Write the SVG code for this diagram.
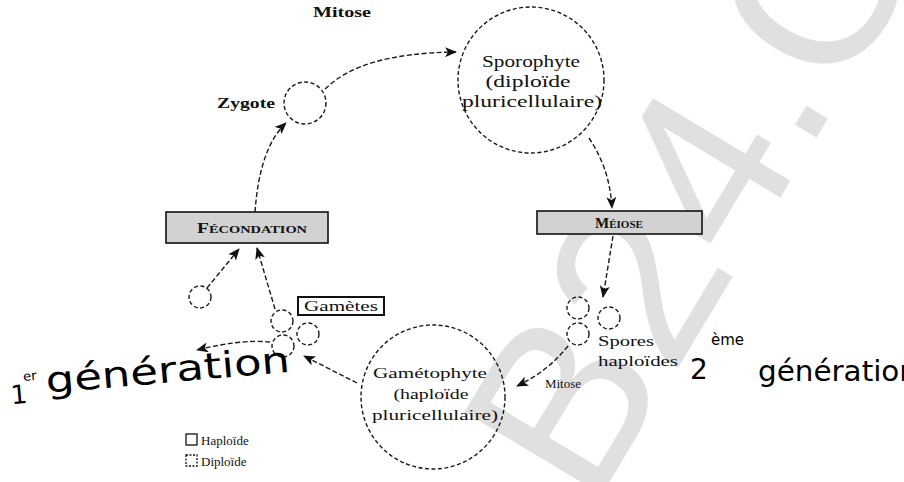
<svg xmlns="http://www.w3.org/2000/svg" width="904" height="482" viewBox="0 0 904 482">
  <style>
    .cell { fill: none; stroke: #1a1a1a; stroke-width: 1.4; stroke-dasharray: 4 2.5; }
    .lbl { font-family: "Liberation Serif", "Times New Roman", serif; fill: #111; }
    .box { fill: #d2d2d2; stroke: #111; stroke-width: 1.6; }
    .boxtxt { font-family: "Liberation Serif", "Times New Roman", serif; font-weight: bold; font-variant: small-caps; fill: #111; }
    .link { fill: none; stroke: #1a1a1a; stroke-width: 1.4; stroke-dasharray: 5 2.5; }
    .hand { font-family: "DejaVu Sans", "Liberation Sans", sans-serif; fill: #000; }
  </style>
  <defs>
    <marker id="arrow" viewBox="0 0 12 10" refX="11" refY="5" markerWidth="12" markerHeight="10" markerUnits="userSpaceOnUse" orient="auto">
      <path d="M0,0 L12,5 L0,10 L3,5 Z" fill="#111"/>
    </marker>
  </defs>

  <rect width="904" height="482" fill="#ffffff"/>

  <!-- faint background watermark -->
  <text x="0" y="0" transform="translate(592,511) rotate(-59)" font-family="Liberation Sans, Arial, sans-serif" font-size="233" fill="#e0e0e0">B24.C</text>

  <!-- connectors -->
  <g id="connectors">
    <path class="link" d="M325,89 C350,65 390,53 456,52" marker-end="url(#arrow)"/>
    <path class="link" d="M589,138 C600,155 610,175 612,208" marker-end="url(#arrow)"/>
    <path class="link" d="M613,236 L603,297" marker-end="url(#arrow)"/>
    <path class="link" d="M568,346 C555,362 540,375 517,386" marker-end="url(#arrow)"/>
    <path class="link" d="M357,383 L304,356" marker-end="url(#arrow)"/>
    <path class="link" d="M270,342 C250,340 225,343 197,350" marker-end="url(#arrow)"/>
    <path class="link" d="M275,309 L257,248" marker-end="url(#arrow)"/>
    <path class="link" d="M207,288 L239,249" marker-end="url(#arrow)"/>
    <path class="link" d="M255,212 C258,170 268,140 286,123" marker-end="url(#arrow)"/>
  </g>

  <text class="lbl" x="313" y="17" font-size="14" font-weight="bold" textLength="58" lengthAdjust="spacingAndGlyphs">Mitose</text>
  <text class="lbl" x="545" y="388" font-size="13" textLength="36" lengthAdjust="spacingAndGlyphs">Mitose</text>

  <g id="zygote">
    <circle class="cell" cx="305" cy="103" r="21"/>
    <text class="lbl" x="217" y="108" font-size="14" font-weight="bold" textLength="58" lengthAdjust="spacingAndGlyphs">Zygote</text>
  </g>

  <g id="sporophyte">
    <circle class="cell" cx="531" cy="80" r="73"/>
    <g class="lbl" font-size="16" text-anchor="middle">
      <text x="531" y="67" textLength="98" lengthAdjust="spacingAndGlyphs">Sporophyte</text>
      <text x="528" y="87" textLength="85" lengthAdjust="spacingAndGlyphs">(diploïde</text>
      <text x="532" y="107" textLength="140" lengthAdjust="spacingAndGlyphs">pluricellulaire)</text>
    </g>
  </g>

  <g id="meiose">
    <rect class="box" x="537" y="211" width="165" height="23"/>
    <text class="boxtxt" x="619" y="228" font-size="15" text-anchor="middle">Méiose</text>
  </g>

  <g id="spores">
    <circle class="cell" cx="578" cy="308" r="11"/>
    <circle class="cell" cx="609" cy="318" r="11"/>
    <circle class="cell" cx="578" cy="334" r="11"/>
    <text class="lbl" x="598" y="346" font-size="15" textLength="56" lengthAdjust="spacingAndGlyphs">Spores</text>
    <text class="lbl" x="598" y="366" font-size="15" textLength="80" lengthAdjust="spacingAndGlyphs">haploïdes</text>
  </g>

  <g id="gametophyte">
    <circle class="cell" cx="433" cy="397" r="72"/>
    <g class="lbl" font-size="15" text-anchor="middle">
      <text x="430" y="378" textLength="114" lengthAdjust="spacingAndGlyphs">Gamétophyte</text>
      <text x="431" y="399" textLength="75" lengthAdjust="spacingAndGlyphs">(haploïde</text>
      <text x="435" y="420" textLength="126" lengthAdjust="spacingAndGlyphs">pluricellulaire)</text>
    </g>
  </g>

  <g id="gametes">
    <circle class="cell" cx="282" cy="321" r="11"/>
    <circle class="cell" cx="308" cy="334" r="11"/>
    <circle class="cell" cx="283" cy="346" r="11"/>
    <circle class="cell" cx="200" cy="297" r="11"/>
    <rect x="298" y="297" width="86" height="18" fill="#fff" stroke="#111" stroke-width="2"/>
    <text class="lbl" x="341" y="311" font-size="14" text-anchor="middle" textLength="74" lengthAdjust="spacingAndGlyphs">Gamètes</text>
  </g>

  <g id="fecondation">
    <rect class="box" x="166" y="212" width="162" height="31"/>
    <text class="boxtxt" x="252" y="233" font-size="15" text-anchor="middle" textLength="110" lengthAdjust="spacingAndGlyphs">Fécondation</text>
  </g>

  <g id="legend">
    <rect x="186" y="434" width="11" height="11" fill="none" stroke="#111" stroke-width="1.3"/>
    <text class="lbl" x="201" y="445" font-size="13">Haploïde</text>
    <rect x="186" y="455" width="11" height="11" fill="none" stroke="#111" stroke-width="1.3" stroke-dasharray="2 1.5"/>
    <text class="lbl" x="201" y="466" font-size="13">Diploïde</text>
  </g>

  <!-- handwritten notes -->
  <g id="note-gen1" transform="rotate(-5 150 380)">
    <text class="hand" x="10" y="392" font-size="26">1</text>
    <text class="hand" x="24" y="370" font-size="13">er</text>
    <text class="hand" x="46" y="384" font-size="36" textLength="245" lengthAdjust="spacingAndGlyphs">génération</text>
  </g>
  <g id="note-gen2">
    <text class="hand" x="690" y="379" font-size="28">2</text>
    <text class="hand" x="711" y="345" font-size="15">ème</text>
    <text class="hand" x="758" y="381" font-size="28" textLength="160" lengthAdjust="spacingAndGlyphs">génération</text>
  </g>
</svg>
